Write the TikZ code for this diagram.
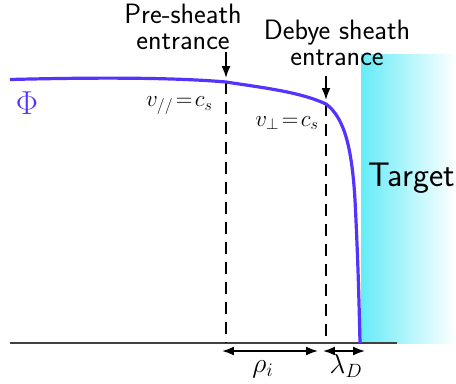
\documentclass[tikz,border=0pt]{standalone}
\usepackage{amsmath,amssymb}
\usetikzlibrary{arrows.meta,positioning}
\definecolor{phiblue}{RGB}{85,51,255}
\definecolor{targetcyan}{RGB}{102,236,248}

\begin{document}
\begin{tikzpicture}[
  x=0.75pt, y=-0.75pt, >=Latex,
  every node/.style={font=\fontsize{21}{19}\selectfont\sffamily},
  lbl/.style={align=center, inner sep=0pt},
  mlbl/.style={inner sep=0pt, font=\fontsize{17.5}{19}\selectfont},
  phi/.style={draw=phiblue, line width=2.4pt},
  marker/.style={dashed, line width=1.8pt, dash pattern=on 9pt off 6pt},
  pointer/.style={->, line width=1.3pt},
  span/.style={<->, line width=1.3pt},
]
  \useasboundingbox (0,0) rectangle (456,384);

  % target plate
  \shade[left color=targetcyan, right color=white] (361,55) rectangle (456,343);
  \node[lbl, font=\fontsize{25.5}{27}\selectfont\sffamily, anchor=east] (target) at (455,178) {Target};

  % axis
  \coordinate (axl) at (10,343);
  \coordinate (axr) at (397,343);
  \draw[line width=0.8pt, black!75] (axl) -- (axr);

  % entrances
  \coordinate (pre) at (226,82);
  \coordinate (deb) at (326,104);
  \coordinate (pre0) at (226,343);
  \coordinate (deb0) at (326,343);
  \coordinate (wall) at (361,343);

  \draw[marker] (pre) -- (pre0);
  \draw[marker] (deb) -- (deb0);

  % potential
  \draw[phi] (10,79.5) .. controls (110,77) and (180,78) .. (pre)
    .. controls (265,88) and (300,92) .. (deb)
    .. controls (345,118) and (352,150) .. (355,200)
    .. controls (358,260) and (359,300) .. (360,343);
  \node[mlbl, text=phiblue, font=\fontsize{25}{26}\selectfont] (phi) at (27,103) {$\Phi$};

  % labels above
  \node[lbl] (prelbl) at (183,27) {Pre-sheath\\entrance};
  \node[lbl] (deblbl) at (337,43) {Debye sheath\\entrance};
  \draw[pointer] (226,52) -- ([yshift=3pt]pre);
  \draw[pointer] (326,76) -- ([yshift=3pt]deb);

  \node[mlbl, anchor=east] (vpar) at (213,106) {$v_{//}\!=\!c_s$};
  \node[mlbl, anchor=east] (vperp) at (319,123) {$v_{\perp}\!=\!c_s$};

  % lengths
  \draw[span] ([shift={(-4,8)}]pre0) -- ([shift={(-8,8)}]deb0);
  \draw[span] ([shift={(-3,8)}]deb0) -- ([shift={(4,8)}]wall);
  \node[mlbl, font=\fontsize{21}{22}\selectfont] (rho) at (263,369) {$\rho_i$};
  \node[mlbl, font=\fontsize{21}{22}\selectfont] (lam) at (346,366) {$\lambda_D$};
\end{tikzpicture}
\end{document}
